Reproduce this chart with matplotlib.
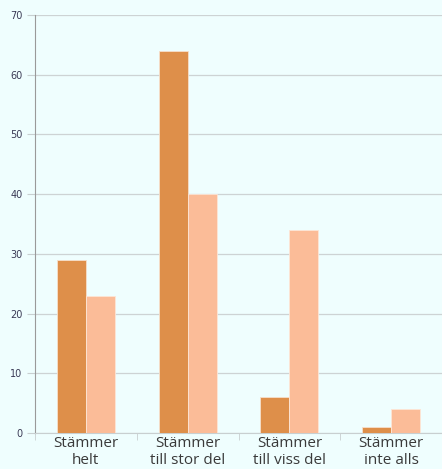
import numpy as np
import matplotlib.pyplot as plt

categories = ["Stämmer\nhelt", "Stämmer\ntill stor del", "Stämmer\ntill viss del", "Stämmer\ninte alls"]
series_a = [29, 64, 6, 1]
series_b = [23, 40, 34, 4]
yticks = [0, 10, 20, 30, 40, 50, 60, 70]

bg = "#effefe"
fig = plt.figure(figsize=(4.42, 4.69), dpi=100, facecolor=bg)
ax = fig.add_axes([35 / 442, 36 / 469, 407 / 442, 418 / 469])
ax.set_facecolor(bg)

x = np.arange(len(categories))
w = 0.285
ax.bar(x - w / 2, series_a, w, color="#de8f4a", edgecolor="#f6e0cc", linewidth=0.6, zorder=3)
ax.bar(x + w / 2, series_b, w, color="#fbbc98", edgecolor="#fde6d6", linewidth=0.6, zorder=3)

ax.set_xlim(-0.5, len(categories) - 0.5)
ax.set_ylim(0, 70)
ax.set_yticks(yticks)
ax.set_yticklabels([str(v) for v in yticks], fontsize=7, color="#3a3a55")
ax.tick_params(axis="y", length=6, color="#c8cfd0", pad=3)
ax.grid(axis="y", color="#cdd3d4", linewidth=0.9, zorder=0)

ax.set_xticks(x)
ax.set_xticklabels(categories, fontsize=11, color="#3a3a3a", linespacing=1.2,
                   family=["Open Sans", "DejaVu Sans"])
ax.tick_params(axis="x", length=0, pad=2)
ax.set_xticks(np.arange(len(categories) + 1) - 0.5, minor=True)
ax.tick_params(axis="x", which="minor", length=5, color="#c8cfd0")

for s in ["top", "right"]:
    ax.spines[s].set_visible(False)
ax.spines["left"].set_color("#9a9a9a")
ax.spines["bottom"].set_color("#c8cfd0")

fig.savefig("out.png", dpi=100, facecolor=bg)
